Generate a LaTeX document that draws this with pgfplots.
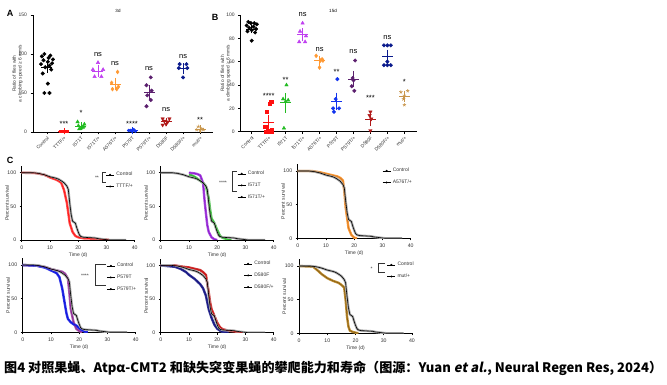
\documentclass[border=0pt]{standalone}
\usepackage{graphicx}
\usepackage{pgfplots}
\usepackage{pgfplotstable}
\pgfplotsset{compat=1.18}
\usepackage{fontspec}
\setmainfont{Liberation Sans}
\newfontfamily\cjk{Noto Sans CJK SC}
\newfontfamily\cjkit[FakeSlant=0.2]{Noto Sans CJK SC}

\definecolor{cTTTF}{HTML}{FF1010}
\definecolor{cI}{HTML}{22BB22}
\definecolor{cIp}{HTML}{C040F0}
\definecolor{cA}{HTML}{FF9933}
\definecolor{cP}{HTML}{1133EE}
\definecolor{cPp}{HTML}{5B1F6E}
\definecolor{cD}{HTML}{B01919}
\definecolor{cDp}{HTML}{0A1A8C}
\definecolor{cM}{HTML}{C8954A}
\definecolor{sIp}{HTML}{8A10D0}
\definecolor{sP}{HTML}{8A2090}
\definecolor{sP2}{HTML}{0A10E0}
\definecolor{sD}{HTML}{C81010}
\definecolor{sDp}{HTML}{101080}
\definecolor{sM}{HTML}{B8801A}

\pgfplotstableread{
t s
0 100
4 100
5 99.5
6 99
7 98
8 97
9 95.5
10 94
11 93
12 92
13 90.5
14 88
15 85
16 80
16.5 75
17 55
17.5 38
18 28
19 25
19.5 18
20 12
20.5 7
21 5
22 4
24 3.5
26 3
27 2
28 1.5
29 1
30 0.5
31 0
37 0
}\ctrl
\pgfplotstableread{
t s
0 100
5 99.5
8 97
10 93
12 90
13 88
14 85
15 74
16 55
16.5 40
17 25
18 12
19 6
20 4
22 2.5
25 2
28 1
30 0.5
31 0
}\tttf
\pgfplotstableread{
t s
10 97
11 96
12 94
13 91
14 88
15 85
16 80
17 62
17.5 45
18 32
19 25
20 15
21 6
22 3
24 1
25 0
}\ist
\pgfplotstableread{
t s
10 100
12 99
13 98
14 96
15 85
15.5 60
16 40
16.5 22
17 12
18 4
19 1
20 0
}\istp
\pgfplotstableread{
t s
0 100
5 100
8 98
10 96
12 94
14 92
15 90
16 86
16.5 70
17 45
17.5 30
18 15
19 5
20 1
21 0
}\ast
\pgfplotstableread{
t s
0 100
5 99
8 97
10 94
12 92
14 90
15 87
16 80
16.5 60
17 35
18 15
19 5
20 2
21 0
}\pst
\pgfplotstableread{
t s
0 100
5 99
8 96
10 92
12 88
13 82
14 65
15 40
15.5 28
16 20
17 15
18 12
19 10
20 6
21 3
22 1
23 0
}\pstp
\pgfplotstableread{
t s
0 100
5 100
8 98
10 97
12 95
14 93
15 90
16 86
17 60
17.5 45
18 35
19 25
20 15
21 8
22 5
24 3
26 2
28 0.5
29 0
}\dst
\pgfplotstableread{
t s
0 100
5 98
7 95
9 90
10 86
12 80
13 76
14 72
15 66
16 55
16.5 45
17 35
18 22
19 12
20 6
21 3
22 1
24 0
}\dstp
\pgfplotstableread{
t s
0 100
5 99
7 92
8 88
10 82
12 78
14 75
15 72
16 68
16.5 50
17 25
17.5 10
18 4
19 2
20 1
21 0
}\mut

\tikzset{sig/.style={font=\fontsize{7.5}{8}\selectfont, inner sep=0pt}}
\pgfplotsset{
  scat/.style={scale only axis, axis lines=left, axis line style={-, line width=0.8pt},
    tick align=outside, major tick length=2.5pt, tick style={line width=0.7pt, black},
    xtick={0,...,9},
    xticklabels={Control,TTTF/+,I571T,I571T/+,A576T/+,P579T,P579T/+,D580F,D580F/+,mut/+},
    x tick label style={rotate=45, anchor=north east, inner sep=1pt, font=\fontsize{4.8}{5}\selectfont, black!80},
    y tick label style={font=\fontsize{5}{6}\selectfont, black!80},
    ylabel={Ratio of flies with\\a climbing speed ≥ 6 mm/s},
    ylabel style={align=center, font=\fontsize{4.8}{5.6}\selectfont, black!80,
      at={(axis description cs:-0.086,0.5)}, anchor=center},
    clip=false, /pgf/number format/assume math mode=true, ymin=0},
  pts/.style={only marks, mark size=1.8pt},
  mean/.style={only marks, mark=-, mark size=5.5pt, mark options={line width=0.8pt},
    error bars/y dir=both, error bars/y explicit, error bars/error mark=-,
    error bars/error mark options={mark size=3pt, line width=0.8pt},
    error bars/error bar style={line width=0.8pt}},
  surv/.style={scale only axis, width=113pt, height=74pt, xmin=0, xmax=40, ymin=0, ymax=110,
    axis lines=left, axis line style={-, line width=0.7pt}, tick align=outside,
    major tick length=2pt, tick style={line width=0.6pt, black},
    xtick={0,10,20,30,40}, ytick={0,50,100},
    xlabel={Time (d)}, ylabel={Percent survival},
    label style={font=\fontsize{5}{6}\selectfont, black!80},
    ylabel style={at={(axis description cs:-0.13,0.5)}, anchor=center},
    xlabel style={at={(axis description cs:0.5,-0.2)}, anchor=center},
    ticklabel style={font=\fontsize{5.2}{6}\selectfont, black!80},
    /pgf/number format/assume math mode=true,
    legend style={draw=none, fill=none, font=\fontsize{5}{6}\selectfont, anchor=north west,
      inner sep=0pt, row sep=2.6pt, cells={anchor=west}, text=black!80},
    legend cell align=left,
    legend image code/.code={\draw[line width=0.4pt] (0pt,0pt) -- (8pt,0pt); \fill (4pt,0pt) circle (0.75pt);}},
  band/.style={line width=2.4pt, line join=round, forget plot},
  cline/.style={line width=0.6pt, line join=round, forget plot},
}

\begin{document}
\begin{tikzpicture}
\useasboundingbox (0,0) rectangle (667pt,385pt);

% ---------- Panel A ----------
\begin{axis}[scat, at={(33pt,253pt)}, anchor=south west, width=180pt, height=117pt,
  xmin=-0.82, xmax=9.76, ymax=150, ytick={0,50,100,150}]
\addplot[pts, black, mark=*] coordinates {(-0.15,100) (0.2,98) (-0.3,97) (0.1,95) (0.35,93) (-0.2,92) (0.05,90) (0.3,88) (-0.35,87) (0.15,85) (-0.1,83) (0.25,80) (-0.25,75) (0.05,62) (-0.15,50) (0.15,50)};
\addplot[black, mean] coordinates {(0,83.4) +- (0,3.6)};
\addplot[pts, cTTTF, mark=square*, mark size=1.3pt] coordinates {(0.8,1) (0.9,1) (1.0,1) (1.1,1) (1.2,1)};
\addplot[cTTTF, mean] coordinates {(1,1) +- (0,0.3)};
\addplot[pts, cI, mark=triangle*, mark size=2pt] coordinates {(1.8,13) (2.2,10) (1.85,8) (2.15,7) (2.0,5) (1.9,4) (2.1,6)};
\addplot[cI, mean] coordinates {(2,7.6) +- (0,1.2)};
\addplot[pts, cIp, mark=triangle*, mark size=2pt] coordinates {(3.0,89) (2.7,80) (3.3,80) (2.8,71) (3.2,71)};
\addplot[cIp, mean] coordinates {(3,78.2) +- (0,3.3)};
\addplot[pts, cA, mark=diamond*, mark size=2pt] coordinates {(4.15,77) (3.8,63) (4.2,58) (3.85,55) (4.1,55)};
\addplot[cA, mean] coordinates {(4,61.6) +- (0,4)};
\addplot[pts, cP, mark=*, mark size=1.5pt] coordinates {(4.8,2) (4.9,2) (5.0,1) (5.1,3) (5.2,1) (5.0,2)};
\addplot[cP, mean] coordinates {(5,1.8) +- (0,0.3)};
\addplot[pts, cPp, mark=*] coordinates {(6.1,70) (5.85,60) (6.15,53) (5.9,47) (6.1,41) (5.85,33)};
\addplot[cPp, mean] coordinates {(6,50.7) +- (0,5.5)};
\addplot[pts, cD, mark=triangle*, mark size=2pt, mark options={rotate=180}] coordinates {(6.8,17) (7.2,17) (6.9,14) (7.1,13) (7.0,10) (6.8,9)};
\addplot[cD, mean] coordinates {(7,13.3) +- (0,1.4)};
\addplot[pts, cDp, mark=*] coordinates {(7.8,87) (8.2,87) (7.75,82) (8.25,82) (8.0,70)};
\addplot[cDp, mean] coordinates {(8,81.6) +- (0,3)};
\addplot[pts, cM, mark=star, mark size=1.8pt, mark options={line width=0.6pt}] coordinates {(8.9,7) (9.1,4) (8.8,3) (9.2,3) (9.0,2)};
\addplot[cM, mean] coordinates {(9,3.8) +- (0,0.9)};
\node[sig] at (axis cs:1,10) {***};
\node[sig] at (axis cs:2,24) {*};
\node[sig] at (axis cs:3,99) {ns};
\node[sig] at (axis cs:4,88) {ns};
\node[sig] at (axis cs:5,10) {****};
\node[sig] at (axis cs:6,82) {ns};
\node[sig] at (axis cs:7,28.5) {ns};
\node[sig] at (axis cs:8,97) {ns};
\node[sig] at (axis cs:9,15) {**};
\end{axis}

% ---------- Panel B ----------
\begin{axis}[scat, at={(240.7pt,253.3pt)}, anchor=south west, width=176pt, height=116.7pt,
  xmin=-0.65, xmax=9.73, ymax=100, ytick={0,20,40,60,80,100}]
\addplot[pts, black, mark=*] coordinates {(-0.2,94) (0.15,93) (-0.05,93) (0.3,92) (-0.3,91) (0.1,90) (-0.15,89) (0.25,88) (0.0,87) (-0.25,86) (0.2,85) (0.0,78)};
\addplot[black, mean] coordinates {(0,88) +- (0,1.2)};
\addplot[pts, cTTTF, mark=square*, mark size=1.6pt] coordinates {(1.15,26) (1.05,24) (0.9,17) (0.8,4) (1.2,2) (0.95,1) (1.0,0) (0.85,0) (1.15,0)};
\addplot[cTTTF, mean] coordinates {(1,8.2) +- (0,3.4)};
\addplot[pts, cI, mark=triangle*, mark size=2pt] coordinates {(2.05,40) (1.85,28) (2.15,27) (2.0,26) (1.9,3)};
\addplot[cI, mean] coordinates {(2,24.8) +- (0,6)};
\addplot[pts, cIp, mark=triangle*, mark size=2pt] coordinates {(3.0,93) (2.85,86) (3.2,82) (2.8,77) (3.15,77)};
\addplot[cIp, mean] coordinates {(3,83) +- (0,3)};
\addplot[pts, cA, mark=diamond*, mark size=2pt] coordinates {(3.8,65) (4.15,62) (4.05,61) (4.2,61) (4.0,55)};
\addplot[cA, mean] coordinates {(4,60.8) +- (0,1.6)};
\addplot[pts, cP, mark=*] coordinates {(5.05,45) (4.95,28) (4.8,20) (5.15,20) (4.85,17)};
\addplot[cP, mean] coordinates {(5,26) +- (0,5)};
\addplot[pts, cPp, mark=*] coordinates {(6.1,61) (5.95,46) (6.0,44) (5.9,39) (6.05,35)};
\addplot[cPp, mean] coordinates {(6,45) +- (0,4.5)};
\addplot[pts, cD, mark=triangle*, mark size=2pt, mark options={rotate=180}] coordinates {(7.0,17) (6.95,14) (7.05,11) (7.0,1)};
\addplot[cD, mean] coordinates {(7,10.75) +- (0,3.5)};
\addplot[pts, cDp, mark=*] coordinates {(7.8,74) (8.0,74) (8.2,74) (8.0,60) (7.8,57) (8.0,57) (8.2,57)};
\addplot[cDp, mean] coordinates {(8,64.7) +- (0,3)};
\addplot[pts, cM, mark=star, mark size=1.8pt, mark options={line width=0.6pt}] coordinates {(8.8,34) (9.2,35) (9.0,31) (8.95,28) (9.0,23)};
\addplot[cM, mean] coordinates {(9,30.2) +- (0,2)};
\node[sig] at (axis cs:1,31) {****};
\node[sig] at (axis cs:2,44) {**};
\node[sig] at (axis cs:3,100) {ns};
\node[sig] at (axis cs:4,70) {ns};
\node[sig] at (axis cs:5,51) {**};
\node[sig] at (axis cs:6,68.6) {ns};
\node[sig] at (axis cs:7,29) {***};
\node[sig] at (axis cs:8,81) {ns};
\node[sig] at (axis cs:9,43) {*};
\end{axis}

% ---------- Panel C1 ----------
\begin{axis}[surv, at={(21.7pt,145pt)}, anchor=south west, legend style={at={(0.744,0.946)}}]
\addplot[band, cTTTF!75] table {\tttf};
\addplot[band, gray!65] table {\ctrl};
\addplot[cline, cTTTF] table {\tttf};
\addplot[cline, black] table {\ctrl};
\addlegendimage{black}\addlegendentry{Control}
\addlegendimage{black}\addlegendentry{TTTF/+}
\end{axis}

% ---------- Panel C2 ----------
\begin{axis}[surv, at={(160.7pt,145pt)}, anchor=south west, legend style={at={(0.678,0.96)}}]
\addplot[band, cI!80] table {\ist};
\addplot[band, sIp!75] table {\istp};
\addplot[band, gray!65] table {\ctrl};
\addplot[cline, cI] table {\ist};
\addplot[cline, sIp] table {\istp};
\addplot[cline, black] table {\ctrl};
\addlegendimage{black}\addlegendentry{Control}
\addlegendimage{black}\addlegendentry{I571T}
\addlegendimage{black}\addlegendentry{I571T/+}
\end{axis}

% ---------- Panel C3 ----------
\begin{axis}[surv, at={(297.7pt,146.7pt)}, anchor=south west, legend style={at={(0.748,0.977)}}]
\addplot[band, cA] table {\ast};
\addplot[band, gray!65] table {\ctrl};
\addplot[cline, cA!80!black] table {\ast};
\addplot[cline, black] table {\ctrl};
\addlegendimage{black}\addlegendentry{Control}
\addlegendimage{black}\addlegendentry{A576T/+}
\end{axis}

% ---------- Panel C4 ----------
\begin{axis}[surv, at={(22.7pt,52.7pt)}, anchor=south west, legend style={at={(0.741,0.963)}}]
\addplot[band, sP!75] table {\pst};
\addplot[band, sP2!85] table {\pstp};
\addplot[band, gray!65] table {\ctrl};
\addplot[cline, sP] table {\pst};
\addplot[cline, sP2] table {\pstp};
\addplot[cline, black] table {\ctrl};
\addlegendimage{black}\addlegendentry{Control}
\addlegendimage{black}\addlegendentry{P579T}
\addlegendimage{black}\addlegendentry{P579T/+}
\end{axis}

% ---------- Panel C5 ----------
\begin{axis}[surv, at={(160.7pt,52.3pt)}, anchor=south west, legend style={at={(0.735,0.996)}}]
\addplot[band, sD!85] table {\dst};
\addplot[band, sDp!85] table {\dstp};
\addplot[band, gray!65] table {\ctrl};
\addplot[cline, sD] table {\dst};
\addplot[cline, sDp] table {\dstp};
\addplot[cline, black] table {\ctrl};
\addlegendimage{black}\addlegendentry{Control}
\addlegendimage{black}\addlegendentry{D580F}
\addlegendimage{black}\addlegendentry{D580F/+}
\end{axis}

% ---------- Panel C6 ----------
\begin{axis}[surv, at={(299pt,51.7pt)}, anchor=south west, legend style={at={(0.778,0.99)}}]
\addplot[band, sM!90] table {\mut};
\addplot[band, gray!65] table {\ctrl};
\addplot[cline, sM!70!black] table {\mut};
\addplot[cline, black] table {\ctrl};
\addlegendimage{black}\addlegendentry{Control}
\addlegendimage{black}\addlegendentry{mut/+}
\end{axis}

% brackets and significance for survival
\begin{scope}[line width=0.4pt, black!80]
\draw (106pt,212.3pt) -- (102pt,212.3pt) -- (102pt,203pt) -- (106pt,203pt);
\node[font=\fontsize{5}{6}\selectfont, inner sep=0pt] at (97pt,207.5pt) {**};
\draw (237pt,213.3pt) -- (231.7pt,213.3pt) -- (231.7pt,193.3pt) -- (237pt,193.3pt);
\node[font=\fontsize{5}{6}\selectfont, inner sep=0pt] at (223pt,202.5pt) {****};
\draw (106pt,120.7pt) -- (95pt,120.7pt) -- (95pt,100pt) -- (106pt,100pt);
\node[font=\fontsize{5}{6}\selectfont, inner sep=0pt] at (85pt,109.5pt) {****};
\draw (385pt,121.7pt) -- (378pt,121.7pt) -- (378pt,112.3pt) -- (385pt,112.3pt);
\node[font=\fontsize{5}{6}\selectfont, inner sep=0pt] at (371.7pt,116.5pt) {*};
\end{scope}

% panel letters and titles
\node[font=\bfseries\fontsize{9}{10}\selectfont, inner sep=0pt] at (10pt,372pt) {A};
\node[font=\bfseries\fontsize{9}{10}\selectfont, inner sep=0pt] at (215pt,368pt) {B};
\node[font=\bfseries\fontsize{9}{10}\selectfont, inner sep=0pt] at (10pt,225pt) {C};
\node[font=\fontsize{4.5}{5}\selectfont, inner sep=0pt] at (118pt,374pt) {3d};
\node[font=\fontsize{4.5}{5}\selectfont, inner sep=0pt] at (333pt,374pt) {15d};

% caption
\node[anchor=west, inner sep=0pt] at (4pt,17pt) {\resizebox{658pt}{!}{\cjk\bfseries 图4 对照果蝇、Atpα-CMT2 和缺失突变果蝇的攀爬能力和寿命（图源：Yuan {\cjkit\bfseries et al.}, Neural Regen Res, 2024）}};
\end{tikzpicture}
\end{document}
